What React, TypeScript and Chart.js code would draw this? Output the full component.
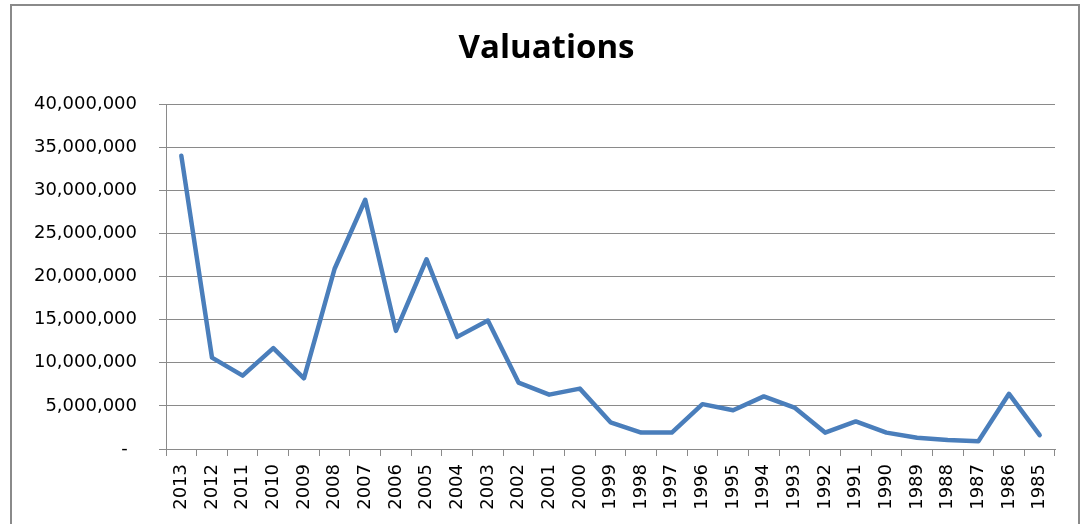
import React, { useEffect, useRef } from "react";
import { Chart, registerables } from "chart.js";

Chart.register(...registerables);

const years: string[] = [
  "2013", "2012", "2011", "2010", "2009", "2008", "2007", "2006", "2005", "2004",
  "2003", "2002", "2001", "2000", "1999", "1998", "1997", "1996", "1995", "1994",
  "1993", "1992", "1991", "1990", "1989", "1988", "1987", "1986", "1985",
];

const valuations: number[] = [
  34000000, 10600000, 8500000, 11700000, 8200000, 20900000, 28900000, 13700000, 22000000, 13000000,
  14900000, 7700000, 6300000, 7000000, 3100000, 1900000, 1900000, 5200000, 4500000, 6100000,
  4800000, 1900000, 3200000, 1900000, 1300000, 1050000, 900000, 6400000, 1600000,
];

const chartTitle = "Valuations";
const yMin = 0;
const yMax = 40000000;
const yStep = 5000000;

const borderPlugin = {
  id: "outerBorder",
  beforeDraw(chart: any) {
    const ctx = chart.ctx;
    ctx.save();
    ctx.fillStyle = "#ffffff";
    ctx.fillRect(0, 0, chart.width, chart.height);
    ctx.strokeStyle = "#8a8a8a";
    ctx.lineWidth = 2;
    ctx.strokeRect(11, 5, 1068, 540);
    ctx.restore();
  },
};

export default function App() {
  const canvasRef = useRef<HTMLCanvasElement | null>(null);

  useEffect(() => {
    if (!canvasRef.current) return;
    const titleFont = "'Open Sans', 'Noto Sans', sans-serif";
    const tickFont = "'DejaVu Sans', sans-serif";
    const chart = new Chart(canvasRef.current, {
      type: "line",
      data: {
        labels: years,
        datasets: [
          {
            label: chartTitle,
            data: valuations,
            borderColor: "#4a7ebb",
            backgroundColor: "#4a7ebb",
            borderWidth: 4.5,
            pointRadius: 0,
            pointHoverRadius: 0,
            tension: 0,
            borderCapStyle: "round",
            borderJoinStyle: "round",
            fill: false,
            yAxisID: "y",
          },
        ],
      },
      options: {
        animation: false,
        responsive: false,
        devicePixelRatio: 1,
        layout: { padding: { left: 20, right: 10, top: 0, bottom: 0 } },
        plugins: {
          legend: { display: false },
          tooltip: { enabled: false },
          title: {
            display: true,
            text: chartTitle,
            color: "#000000",
            font: { family: titleFont, size: 33, weight: "bold", lineHeight: 1.2 },
            padding: { top: 29, bottom: 35.4 },
          },
        },
        scales: {
          x: {
            type: "category",
            offset: true,
            grid: {
              offset: true,
              drawOnChartArea: false,
              drawTicks: true,
              tickLength: 7,
              color: "#8a8a8a",
              lineWidth: 1,
            },
            border: { display: true, color: "#8a8a8a", width: 1 },
            ticks: {
              autoSkip: false,
              minRotation: 90,
              maxRotation: 90,
              padding: 8,
              color: "#000000",
              font: { family: tickFont, size: 18 },
            },
            afterFit(scale: any) {
              scale.height = 75;
            },
          },
          y: {
            position: "left",
            min: yMin,
            max: yMax,
            ticks: {
              stepSize: yStep,
              padding: 22,
              color: "#000000",
              font: { family: tickFont, size: 18 },
              callback: (v: any) => (Number(v) === 0 ? "- \u2009" : Number(v).toLocaleString("en-US")),
            },
            grid: {
              color: "#8a8a8a",
              lineWidth: 1,
              tickLength: 7,
              drawTicks: true,
            },
            border: { display: true, color: "#8a8a8a", width: 1 },
            afterFit(scale: any) {
              scale.width = 146;
            },
          },
          spacer: {
            position: "right",
            min: yMin,
            max: yMax,
            grid: { display: false, drawTicks: false },
            border: { display: false },
            ticks: { display: false },
            afterFit(scale: any) {
              scale.width = 18;
            },
          },
        },
      },
      plugins: [borderPlugin],
    });
    return () => chart.destroy();
  }, []);

  return (
    <div style={{ position: "absolute", left: 0, top: 0, width: 1083, height: 524, overflow: "hidden", background: "#fff" }}>
      <canvas ref={canvasRef} width={1083} height={524} style={{ display: "block" }} />
    </div>
  );
}
